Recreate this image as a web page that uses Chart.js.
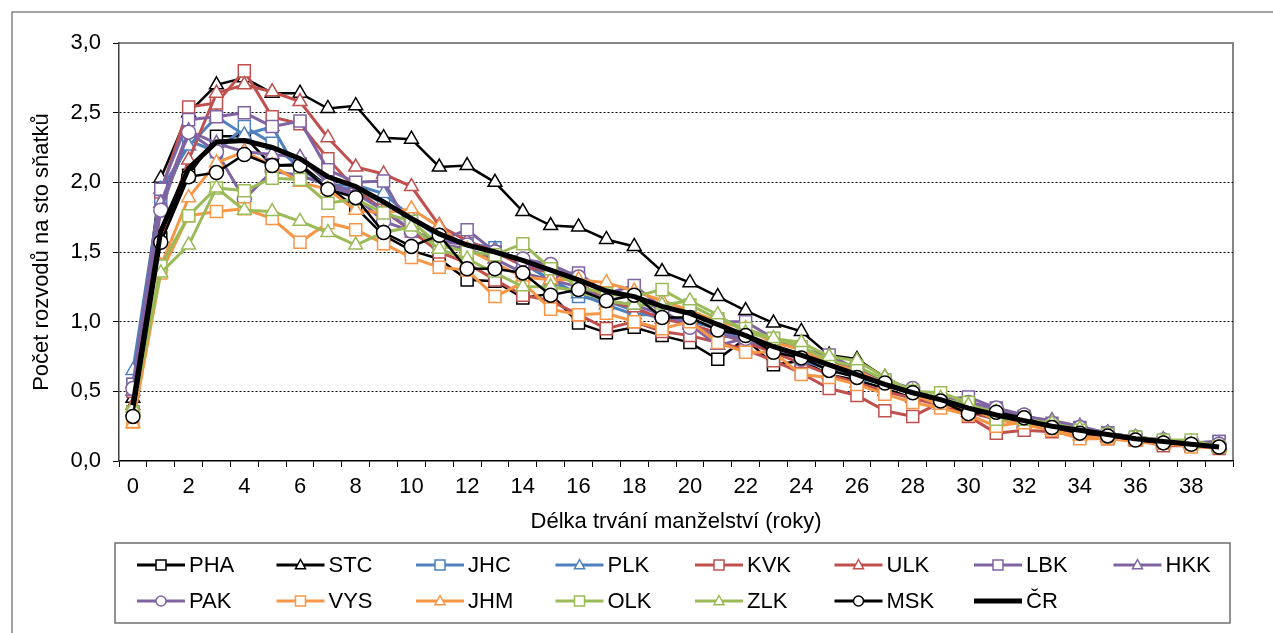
<!DOCTYPE html>
<html>
<head>
<meta charset="utf-8">
<script src="https://cdn.jsdelivr.net/npm/chart.js@4.4.1/dist/chart.umd.min.js"></script>
<style>
  html, body { margin: 0; padding: 0; background: #fff; }
  #wrap { width: 1273px; height: 633px; position: relative; }
</style>
</head>
<body>
<div id="wrap"><canvas id="chart"></canvas></div>
<script>
const years = ['0', '1', '2', '3', '4', '5', '6', '7', '8', '9', '10', '11', '12', '13', '14', '15', '16', '17', '18', '19',
  '20', '21', '22', '23', '24', '25', '26', '27', '28', '29', '30', '31', '32', '33', '34', '35', '36', '37', '38', '39'];

const PHA = [0.35, 1.60, 2.05, 2.33, 2.33, 2.12, 2.13, 1.97, 1.82, 1.62, 1.51, 1.45, 1.30, 1.29, 1.17, 1.20, 0.99, 0.92, 0.96, 0.90,
  0.85, 0.73, 0.88, 0.69, 0.72, 0.62, 0.58, 0.52, 0.45, 0.42, 0.36, 0.32, 0.28, 0.22, 0.20, 0.17, 0.15, 0.13, 0.11, 0.10];
const STC = [0.45, 2.03, 2.50, 2.70, 2.75, 2.64, 2.64, 2.53, 2.55, 2.32, 2.31, 2.11, 2.12, 2.00, 1.79, 1.69, 1.68, 1.59, 1.54, 1.36,
  1.28, 1.18, 1.08, 0.99, 0.93, 0.76, 0.73, 0.60, 0.50, 0.45, 0.40, 0.35, 0.30, 0.27, 0.23, 0.20, 0.17, 0.15, 0.13, 0.11];
const JHC = [0.55, 1.85, 2.30, 2.22, 2.40, 2.28, 2.10, 1.97, 1.95, 1.85, 1.75, 1.62, 1.56, 1.53, 1.42, 1.30, 1.18, 1.15, 1.08, 1.02,
  1.02, 0.95, 0.88, 0.82, 0.72, 0.66, 0.60, 0.55, 0.48, 0.42, 0.38, 0.33, 0.30, 0.25, 0.22, 0.20, 0.17, 0.14, 0.13, 0.14];
const PLK = [0.65, 1.95, 2.26, 2.47, 2.34, 2.40, 2.05, 1.98, 1.98, 1.92, 1.75, 1.60, 1.57, 1.52, 1.42, 1.30, 1.20, 1.12, 1.05, 1.05,
  1.00, 0.95, 0.85, 0.80, 0.74, 0.66, 0.60, 0.55, 0.48, 0.42, 0.38, 0.34, 0.28, 0.25, 0.22, 0.20, 0.17, 0.15, 0.13, 0.12];
const KVK = [0.50, 1.93, 2.54, 2.57, 2.80, 2.47, 2.42, 2.17, 1.95, 1.80, 1.65, 1.50, 1.42, 1.30, 1.19, 1.15, 1.05, 0.95, 1.00, 0.93,
  0.90, 0.85, 0.80, 0.72, 0.63, 0.52, 0.47, 0.36, 0.32, 0.42, 0.32, 0.20, 0.22, 0.21, 0.18, 0.16, 0.15, 0.11, 0.11, 0.09];
const ULK = [0.40, 1.60, 2.16, 2.64, 2.70, 2.65, 2.58, 2.32, 2.11, 2.06, 1.97, 1.69, 1.58, 1.50, 1.40, 1.35, 1.28, 1.15, 1.10, 1.02,
  0.98, 0.92, 0.85, 0.78, 0.70, 0.62, 0.56, 0.50, 0.45, 0.40, 0.35, 0.30, 0.27, 0.24, 0.20, 0.17, 0.15, 0.13, 0.12, 0.10];
const LBK = [0.55, 1.95, 2.45, 2.47, 2.50, 2.40, 2.44, 2.09, 2.00, 2.01, 1.65, 1.58, 1.66, 1.50, 1.43, 1.35, 1.35, 1.20, 1.26, 1.10,
  1.05, 1.00, 1.00, 0.88, 0.80, 0.76, 0.66, 0.58, 0.50, 0.44, 0.46, 0.38, 0.32, 0.27, 0.24, 0.20, 0.16, 0.13, 0.13, 0.14];
const HKK = [0.50, 1.85, 2.37, 2.28, 2.22, 2.20, 2.18, 2.00, 1.92, 1.80, 1.66, 1.56, 1.52, 1.45, 1.35, 1.30, 1.25, 1.15, 1.12, 1.05,
  0.98, 0.83, 0.88, 0.82, 0.75, 0.70, 0.62, 0.55, 0.48, 0.40, 0.40, 0.36, 0.32, 0.29, 0.25, 0.20, 0.17, 0.15, 0.13, 0.12];
const PAK = [0.52, 1.80, 2.36, 2.22, 1.88, 2.08, 2.05, 1.98, 1.90, 1.72, 1.65, 1.58, 1.55, 1.50, 1.45, 1.41, 1.32, 1.20, 1.18, 1.08,
  0.96, 0.90, 0.88, 0.80, 0.73, 0.72, 0.66, 0.58, 0.52, 0.43, 0.42, 0.38, 0.33, 0.27, 0.24, 0.20, 0.17, 0.15, 0.14, 0.12];
const VYS = [0.28, 1.35, 1.76, 1.79, 1.81, 1.74, 1.57, 1.71, 1.66, 1.56, 1.46, 1.39, 1.37, 1.18, 1.28, 1.09, 1.05, 1.06, 1.00, 0.95,
  1.00, 0.85, 0.78, 0.78, 0.62, 0.60, 0.55, 0.48, 0.42, 0.38, 0.33, 0.25, 0.28, 0.22, 0.16, 0.16, 0.15, 0.13, 0.10, 0.10];
const JHM = [0.27, 1.40, 1.89, 2.14, 2.22, 2.12, 2.00, 1.95, 1.80, 1.78, 1.81, 1.68, 1.52, 1.42, 1.32, 1.30, 1.30, 1.28, 1.22, 1.15,
  1.08, 1.00, 0.95, 0.85, 0.80, 0.70, 0.65, 0.55, 0.48, 0.40, 0.38, 0.30, 0.26, 0.22, 0.18, 0.16, 0.14, 0.12, 0.11, 0.09];
const OLK = [0.35, 1.40, 1.76, 1.96, 1.94, 2.03, 2.02, 1.85, 1.88, 1.78, 1.72, 1.55, 1.50, 1.48, 1.56, 1.38, 1.25, 1.20, 1.18, 1.23,
  1.12, 1.02, 0.95, 0.88, 0.82, 0.72, 0.68, 0.58, 0.50, 0.49, 0.42, 0.30, 0.30, 0.25, 0.22, 0.19, 0.17, 0.15, 0.15, 0.10];
const ZLK = [0.38, 1.35, 1.55, 1.96, 1.80, 1.79, 1.72, 1.64, 1.55, 1.64, 1.68, 1.52, 1.45, 1.35, 1.25, 1.25, 1.22, 1.15, 1.12, 1.12,
  1.15, 1.05, 0.92, 0.88, 0.85, 0.75, 0.72, 0.60, 0.50, 0.45, 0.40, 0.35, 0.30, 0.27, 0.23, 0.19, 0.17, 0.14, 0.12, 0.10];
const MSK = [0.32, 1.57, 2.04, 2.07, 2.20, 2.12, 2.12, 1.95, 1.89, 1.64, 1.54, 1.62, 1.38, 1.38, 1.35, 1.19, 1.23, 1.15, 1.19, 1.03,
  1.03, 0.94, 0.90, 0.78, 0.74, 0.65, 0.60, 0.56, 0.49, 0.43, 0.34, 0.35, 0.31, 0.24, 0.20, 0.18, 0.15, 0.13, 0.12, 0.10];
const CR = [0.40, 1.65, 2.10, 2.29, 2.30, 2.25, 2.17, 2.04, 1.97, 1.86, 1.74, 1.63, 1.55, 1.50, 1.44, 1.37, 1.30, 1.22, 1.18, 1.11,
  1.06, 0.98, 0.90, 0.82, 0.76, 0.69, 0.62, 0.55, 0.49, 0.44, 0.38, 0.33, 0.29, 0.25, 0.22, 0.19, 0.16, 0.14, 0.12, 0.10];

const seriesNames = ['PHA', 'STC', 'JHC', 'PLK', 'KVK', 'ULK', 'LBK', 'HKK', 'PAK', 'VYS', 'JHM', 'OLK', 'ZLK', 'MSK', 'ČR'];
const seriesValues = [PHA, STC, JHC, PLK, KVK, ULK, LBK, HKK, PAK, VYS, JHM, OLK, ZLK, MSK, CR];
const yTicks = [0, 0.5, 1, 1.5, 2, 2.5, 3];

const BLUE = '#4f81bd', RED = '#c0504d', PURPLE = '#8064a2', ORANGE = '#f79646', GREEN = '#9bbb59', BLACK = '#000000';
const seriesStyles = [
  { color: BLACK, marker: 'rect' }, { color: BLACK, marker: 'triangle' },
  { color: BLUE, marker: 'rect' }, { color: BLUE, marker: 'triangle' },
  { color: RED, marker: 'rect' }, { color: RED, marker: 'triangle' },
  { color: PURPLE, marker: 'rect' }, { color: PURPLE, marker: 'triangle' }, { color: PURPLE, marker: 'circle' },
  { color: ORANGE, marker: 'rect' }, { color: ORANGE, marker: 'triangle' },
  { color: GREEN, marker: 'rect' }, { color: GREEN, marker: 'triangle' },
  { color: BLACK, marker: 'circle' }, { color: BLACK, marker: false, width: 5 }
];
const markerRadius = { rect: 8.5, triangle: 8, circle: 7 };

Chart.defaults.font.family = '"Liberation Sans", Arial, sans-serif';
Chart.defaults.font.size = 22;
Chart.defaults.color = '#000';

function drawMarker(ctx, type, x, y, r, color) {
  ctx.save();
  ctx.fillStyle = '#fff';
  ctx.strokeStyle = color;
  ctx.lineWidth = 1.5;
  ctx.beginPath();
  if (type === 'rect') {
    ctx.rect(x - r, y - r, 2 * r, 2 * r);
  } else if (type === 'triangle') {
    ctx.moveTo(x, y - r * 1.1);
    ctx.lineTo(x + r, y + r * 0.75);
    ctx.lineTo(x - r, y + r * 0.75);
    ctx.closePath();
  } else {
    ctx.arc(x, y, r, 0, Math.PI * 2);
  }
  ctx.fill();
  ctx.stroke();
  ctx.restore();
}

const framePlugin = {
  id: 'frame',
  beforeDraw(chart) {
    const { ctx, chartArea: a } = chart;
    ctx.save();
    ctx.fillStyle = '#fff';
    ctx.fillRect(0, 0, chart.width, chart.height);
    ctx.strokeStyle = '#868686';
    ctx.lineWidth = 1.5;
    ctx.strokeRect(12, 12, chart.width + 20, chart.height + 20);
    // plot area border (top and right)
    ctx.lineWidth = 2;
    ctx.beginPath();
    ctx.moveTo(a.left, a.top);
    ctx.lineTo(a.right, a.top);
    ctx.lineTo(a.right, a.bottom);
    ctx.stroke();
    ctx.restore();
  },
  afterDraw(chart) {
    const ctx = chart.ctx;
    ctx.save();
    // legend box
    ctx.strokeStyle = '#6f6f6f';
    ctx.lineWidth = 1.5;
    ctx.strokeRect(115, 543, 1115, 80);
    ctx.font = '22px "Liberation Sans", Arial, sans-serif';
    ctx.textBaseline = 'middle';
    ctx.fillStyle = '#000';
    chart.data.datasets.forEach((ds, i) => {
      const st = seriesStyles[i];
      const col = i % 8;
      const row = Math.floor(i / 8);
      const x0 = 137 + 139.5 * col;
      const y = row === 0 ? 565 : 601;
      ctx.strokeStyle = st.color;
      ctx.lineWidth = st.width || 3;
      ctx.beginPath();
      ctx.moveTo(x0, y);
      ctx.lineTo(x0 + 48, y);
      ctx.stroke();
      if (st.marker) drawMarker(ctx, st.marker, x0 + 24, y, 5, st.color);
      ctx.fillText(ds.label, x0 + 52, y + 1);
    });
    ctx.restore();
  }
};

const datasets = seriesNames.map((name, i) => {
  const st = seriesStyles[i];
  const black = st.color === BLACK;
  return {
    label: name,
    data: seriesValues[i],
    borderColor: st.color,
    borderWidth: st.width || (black ? 2.5 : 3),
    pointStyle: st.marker || 'circle',
    pointRadius: st.marker ? markerRadius[st.marker] : 0,
    pointBackgroundColor: '#fff',
    pointBorderColor: st.color,
    pointBorderWidth: 1.5,
    tension: 0,
    fill: false,
    order: seriesNames.length - 1 - i
  };
});

new Chart(document.getElementById('chart'), {
  type: 'line',
  data: { labels: years, datasets },
  plugins: [framePlugin],
  options: {
    responsive: true,
    maintainAspectRatio: false,
    animation: false,
    events: [],
    layout: { padding: { left: 12, right: 40, top: 43, bottom: 92 } },
    scales: {
      x: {
        offset: true,
        afterFit: (scale) => { scale.height = 80; },
        grid: {
          offset: true,
          drawOnChartArea: false,
          drawTicks: true,
          tickLength: 6,
          color: '#000',
          tickColor: '#000'
        },
        border: { color: '#000', width: 1.5 },
        ticks: {
          autoSkip: false,
          maxRotation: 0,
          padding: 7,
          callback: function (val, idx) {
            return idx % 2 === 0 ? this.getLabelForValue(val) : '';
          }
        },
        title: {
          display: true,
          text: 'Délka trvání manželství (roky)',
          padding: { top: 0, bottom: 6 }
        }
      },
      y: {
        min: yTicks[0],
        max: yTicks[yTicks.length - 1],
        afterFit: (scale) => { scale.width = 107; },
        afterBuildTicks: (scale) => { scale.ticks = yTicks.map(v => ({ value: v })); },
        grid: {
          color: (ctx) => (ctx.tick && (ctx.tick.value === 0 || ctx.tick.value === 3)) ? 'rgba(0,0,0,0)' : '#000',
          lineWidth: 1,
          tickColor: '#000',
          tickLength: 6
        },
        border: { color: '#404040', width: 1.5, dash: [2, 2] },
        ticks: {
          padding: 12,
          callback: (v) => v.toFixed(1).replace('.', ',')
        },
        title: {
          display: true,
          text: 'Počet rozvodů na sto sňatků',
          padding: { top: 17, bottom: 0 }
        }
      }
    },
    plugins: {
      legend: { display: false },
      tooltip: { enabled: false }
    }
  }
});
</script>
</body>
</html>
